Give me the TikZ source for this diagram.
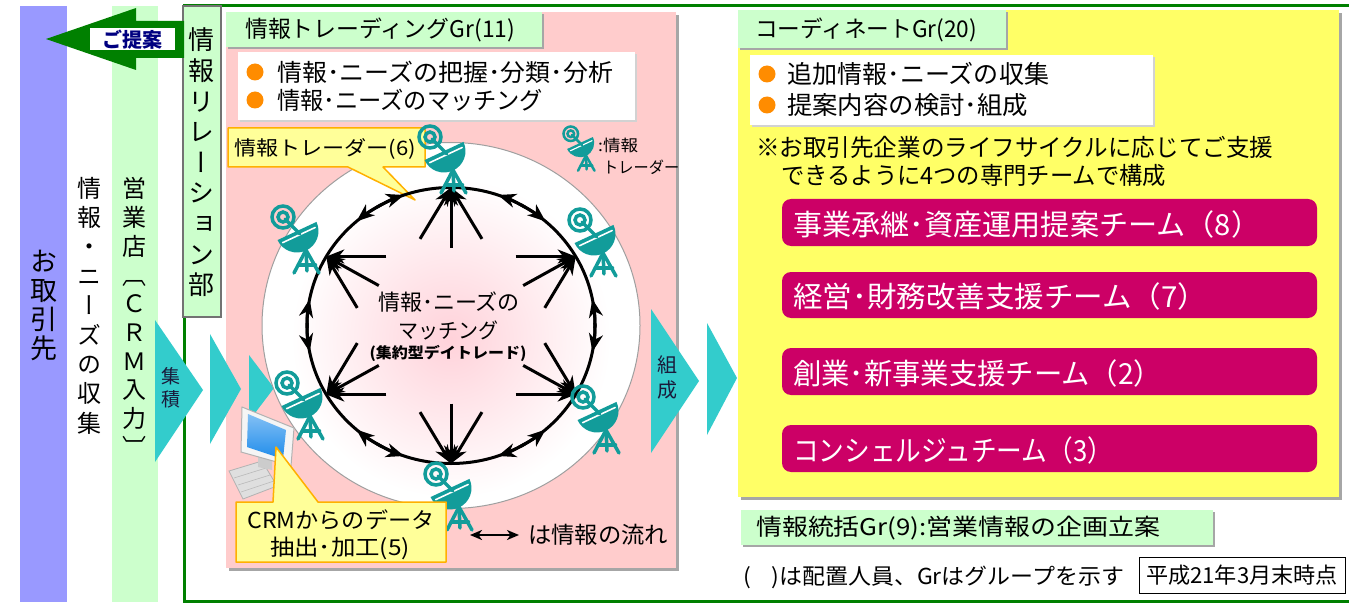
\documentclass[tikz,border=0pt]{standalone}
\usepackage{fontspec}
\usepackage{graphicx}
\newfontfamily\jp{Noto Sans CJK JP}
\newfontfamily\jpv[RawFeature=+vert]{Noto Sans CJK JP}
\usetikzlibrary{arrows.meta,calc}

\definecolor{cLav}{HTML}{9999FF}
\definecolor{cMint}{HTML}{CCFFCC}
\definecolor{cFrame}{HTML}{008000}
\definecolor{cPink}{HTML}{FFCCCC}
\definecolor{cYellow}{HTML}{FFFF66}
\definecolor{cTeal}{HTML}{129C9A}
\definecolor{cChev}{HTML}{33CCCC}
\definecolor{cTeam}{HTML}{CC0066}
\definecolor{cBullet}{HTML}{FF8C00}
\definecolor{cCallFill}{HTML}{FFFF99}
\definecolor{cCallLine}{HTML}{FFB000}
\definecolor{cNavy}{HTML}{000080}
\definecolor{cShadow}{HTML}{A6A6A6}
\definecolor{cGlow}{HTML}{FFD2DA}
\definecolor{cScreen}{HTML}{1E8CEB}
\definecolor{cInk}{HTML}{1A1A3A}

% squeeze or stretch a text horizontally to a given width
\newcommand\fitw[2]{\resizebox{#1}{\height}{#2}}
\newcommand\jfs[1]{\jp\fontsize{#1}{#1}\selectfont}

\tikzset{
  txt/.style={inner sep=0pt, anchor=west},
  vcol/.style={inner sep=0pt, align=center},
  bigtip/.tip={Stealth[length=18pt,width=14pt,inset=5.5pt]},
  chordarrow/.style={line width=3pt, -{bigtip}},
  ringarc/.style={line width=3pt, -{bigtip}},
  flowarrow/.style={line width=2.6pt, {Stealth[length=12pt,width=10pt,inset=3.5pt]}-{Stealth[length=12pt,width=10pt,inset=3.5pt]}},
  chev/.style={fill=cChev},
  team/.style={fill=cTeam, rounded corners=9pt},
  teamtxt/.style={txt, text=white, font=\jfs{29}},
  callout/.style={fill=cCallFill, draw=cCallLine, line width=1.5pt, line join=round},
  dish lw/.store in=\dlw, dish lw=3.5pt,
  dish/.pic={
    \begin{scope}[cTeal, line width=\dlw, line cap=round]
      % tripod
      \draw[line join=round] (-3,42) -- (9,19) -- (22,42);
      \draw (9,19) -- (10,40);
      \draw (1.5,34) -- (18.5,34);
      % bowl with its rim
      \fill (-25:21.5) arc[start angle=-25, end angle=155, radius=21.5] -- cycle;
      \draw[white, line width=0.45*\dlw] ($(-25:18)+(65:4.5)$) -- ($(155:18)+(65:4.5)$);
      % feed and signal rings
      \draw (3,3) -- (-12,-12);
      \draw (-14,-14) circle (11);
      \draw (-14,-14) circle (5);
    \end{scope}
  }
}

\begin{document}
\begin{tikzpicture}[x=1pt,y=-1pt]
\useasboundingbox (0,0) rectangle (1349,604);
\clip (0,0) rectangle (1349,604);
\fill[white] (0,0) rectangle (1349,604);

% ---- customer column
\fill[cLav] (20,6) rectangle (67,602);
\node[vcol, font=\jpv\fontsize{27}{29}\selectfont] (cust) at (43.5,305) {お\\取\\引\\先};

% ---- collecting needs
\node[vcol, font=\jpv\fontsize{24}{29.4}\selectfont] (collect) at (89,305.5)
  {情\\報\\・\\ニ\\ー\\ズ\\の\\収\\集};

% ---- branch column
\fill[cMint] (112,6) rectangle (158,602);
\node[vcol, font=\jpv\fontsize{24}{28.7}\selectfont] (branch) at (134,317)
  {営\\業\\店\\︹\\Ｃ\\Ｒ\\Ｍ\\入\\力\\︺};

% ---- department frame
\draw[cFrame, line width=3pt] (184,6) rectangle (1420,601);

\filldraw[fill=cMint, draw=gray!90!black, line width=1.2pt] (183,6) rectangle (221,317);
\node[vcol, font=\jpv\fontsize{26}{30.6}\selectfont] (rel) at (201.5,162.5)
  {情\\報\\リ\\レ\\ー\\シ\\ョ\\ン\\部};

% ---- proposal arrow
\fill[cFrame] (46,39) -- (136,8) -- (136,21) -- (184,21) -- (184,58) -- (136,58) -- (136,70) -- cycle;
\node[fill=white, minimum width=85pt, minimum height=22pt, inner sep=0pt,
      font=\jp\bfseries\fontsize{20}{20}\selectfont, text=cNavy] (prop) at (132.5,39.5) {ご提案};

% ---- trading group panel
\fill[cShadow] (229,15) rectangle (679,571);
\fill[cPink] (226,12) rectangle (676,568);

\fill[cShadow] (228,14) rectangle (544,49);
\fill[cMint] (226,12) rectangle (542,47);
\node[txt, font=\jfs{23}] (tgr) at (245,30) {\fitw{270pt}{情報トレーディングGr(11)}};

\fill[gray!35] (240,54) rectangle (637,122);
\fill[white] (238,52) rectangle (635,120);
\fill[cBullet] (255,72) circle (8.5);
\fill[cBullet] (255,100) circle (8.5);
\node[txt, font=\jfs{24}] (tb1) at (277,72) {\fitw{336pt}{情報･ニーズの把握･分類･分析}};
\node[txt, font=\jfs{24}] (tb2) at (277,100) {\fitw{266pt}{情報･ニーズのマッチング}};

% ---- chevrons
\fill[chev] (155,320) -- (203,390) -- (155,462) -- cycle;
\node[vcol, font=\jp\fontsize{19}{23}\selectfont, text=cInk] (acc) at (171,388) {集\\積};
\fill[chev] (210,334) -- (241,389) -- (210,444) -- cycle;
\fill[chev] (249,355) -- (274,388) -- (249,421) -- cycle;

\fill[chev] (651,309) -- (699,381) -- (651,453) -- cycle;
\node[vcol, font=\jp\fontsize{20}{25}\selectfont, text=cInk] (form) at (667,377.5) {組\\成};
\fill[chev] (707,323) -- (737,378) -- (707,435) -- cycle;
\fill[chev] (746,347) -- (768,378) -- (746,410) -- cycle;

% ---- matching ring
\coordinate (ctr) at (451,325.5);
\filldraw[fill=white, draw=gray!75, line width=1pt] (ctr) ellipse [x radius=189, y radius=183];
\shade[inner color=cGlow, outer color=white] (451,338) circle (160);

\draw[callout] (228,128) -- (425,128) -- (425,167) -- (383,167) -- (415,200) -- (348,167) -- (228,167) -- cycle;
\node[txt, font=\jfs{20}] (trd) at (234,149) {\fitw{182pt}{情報トレーダー(6)}};

\draw[line width=3pt] (ctr) ellipse [x radius=144, y radius=138];
% two-way heads in the middle of every arc between neighbours
\foreach \m in {0,60,...,300}{
  \draw[ringarc] ($(ctr)+(\m-1:144 and 138)$) arc[start angle=\m-1, end angle=\m+11, x radius=144, y radius=138];
  \draw[ringarc] ($(ctr)+(\m+1:144 and 138)$) arc[start angle=\m+1, end angle=\m-11, x radius=144, y radius=138];
}

\coordinate (n0) at (451,187.5);
\coordinate (n1) at (575.7,256.5);
\coordinate (n2) at (575.7,394.5);
\coordinate (n3) at (451,463.5);
\coordinate (n4) at (326.3,394.5);
\coordinate (n5) at (326.3,256.5);

\foreach \i in {0,...,5}{
  \foreach \k in {2,3,4}{
    \pgfmathtruncatemacro\j{mod(\i+\k,6)}
    \draw[chordarrow] ($(n\i)!60pt!(n\j)$) -- (n\i);
  }
}

\node[inner sep=0pt, font=\jfs{22}] (c1) at (449,302) {\fitw{142pt}{情報･ニーズの}};
\node[inner sep=0pt, font=\jfs{21}] (c2) at (448,330) {\fitw{100pt}{マッチング}};
\node[inner sep=0pt, font=\jp\bfseries\fontsize{15}{15}\selectfont] (c3) at (448,353) {\fitw{157pt}{(集約型デイトレード)}};

% ---- traders
\pic at (444,151) {dish};
\pic at (594,234) {dish};
\pic at (597,411) {dish};
\pic at (450,488) {dish};
\pic at (301,397) {dish};
\pic at (297,231) {dish};

% legend of the trader symbol
\pic[scale=0.66, dish lw=2.5pt] at (580,143) {dish};
\node[txt, font=\jfs{16}] (lg1) at (598,145) {\fitw{40pt}{:情報}};
\node[txt, font=\jfs{16}] (lg2) at (603,167) {\fitw{76pt}{トレーダー}};

% ---- CRM terminal
\filldraw[fill=gray!25, draw=gray!60, line width=0.8pt] (229,471) -- (262,461) -- (277,486) -- (243,499) -- cycle;
\draw[gray!55, line width=0.6pt] (234,478) -- (266,468) (238,485) -- (270,475) (241,492) -- (274,481);
\fill[gray!40] (258,456) -- (272,460) -- (272,470) -- (258,467) -- cycle;
\filldraw[fill=gray!8, draw=gray!60, line width=1pt] (242,407) -- (294,428) -- (291,466) -- (241,452) -- cycle;
\shade[top color=cScreen!55!white, bottom color=cScreen] (248,414) -- (286,430) -- (283,459) -- (247,447) -- cycle;

\draw[callout] (236,502) -- (273,502) -- (276,447) -- (318,502) -- (446,502) -- (446,562) -- (236,562) -- cycle;
\node[inner sep=0pt, font=\jfs{22}] (crm1) at (341,520) {\fitw{187pt}{CRMからのデータ}};
\node[inner sep=0pt, font=\jfs{22}] (crm2) at (340,548) {\fitw{140pt}{抽出･加工(5)}};

% ---- flow legend
\coordinate (fl) at (470,535);
\coordinate (fr) at (519,535);
\draw[flowarrow] (fl) -- (fr);
\node[txt, font=\jfs{23}] (flow) at (528,535) {\fitw{140pt}{は情報の流れ}};

% ---- coordination group panel
\fill[cShadow] (741,13) rectangle (1342,500);
\fill[cYellow] (738,10) rectangle (1339,497);

\fill[cShadow] (740,12) rectangle (1008,50);
\fill[cMint] (738,10) rectangle (1006,48);
\node[txt, font=\jfs{23}] (cgr) at (755,30) {\fitw{222pt}{コーディネートGr(20)}};

\fill[gray!35] (752,57) rectangle (1155,127);
\fill[white] (750,55) rectangle (1153,125);
\fill[cBullet] (767,74) circle (8.5);
\fill[cBullet] (767,105) circle (8.5);
\node[txt, font=\jfs{25}] (cb1) at (787,74) {\fitw{262pt}{追加情報･ニーズの収集}};
\node[txt, font=\jfs{25}] (cb2) at (787,105) {\fitw{241pt}{提案内容の検討･組成}};

\node[txt, font=\jfs{24}] (ln1) at (756,147) {\fitw{517pt}{※お取引先企業のライフサイクルに応じてご支援}};
\node[txt, font=\jfs{24}] (ln2) at (781,175) {\fitw{385pt}{できるように4つの専門チームで構成}};

\fill[team] (782,199) rectangle (1317,246);
\fill[team] (782,272) rectangle (1317,318);
\fill[team] (782,348) rectangle (1317,395);
\fill[team] (782,425) rectangle (1317,472);
\node[teamtxt] (tm1) at (793,224) {\fitw{467pt}{事業承継･資産運用提案チーム（8）}};
\node[teamtxt] (tm2) at (793,296.5) {\fitw{414pt}{経営･財務改善支援チーム（7）}};
\node[teamtxt] (tm3) at (793,373) {\fitw{369pt}{創業･新事業支援チーム（2）}};
\node[teamtxt] (tm4) at (793,450) {\fitw{320pt}{コンシェルジュチーム（3）}};

% ---- information control group
\fill[cShadow] (743,512) rectangle (1215,547);
\fill[cMint] (741,510) rectangle (1213,545);
\node[txt, font=\jfs{23}] (igr) at (756,528) {\fitw{404pt}{情報統括Gr(9):営業情報の企画立案}};

% ---- footnotes
\node[txt, font=\jfs{22}] (fn) at (743,577) {\fitw{381pt}{(\hspace{0.9em})は配置人員、Grはグループを示す}};
\node[draw, line width=1pt, minimum width=206pt, minimum height=36pt, inner sep=0pt, font=\jfs{22}] (date) at (1242,575)
  {\fitw{192pt}{平成21年3月末時点}};
\end{tikzpicture}
\end{document}
